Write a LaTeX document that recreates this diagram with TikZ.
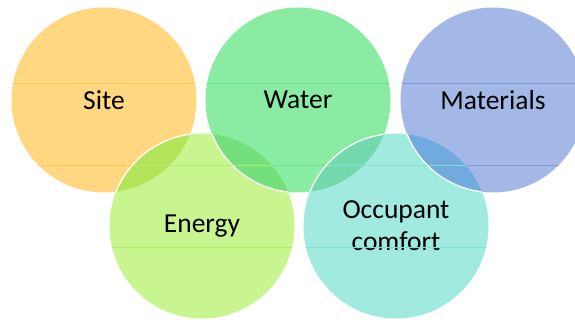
\documentclass[tikz,border=0pt]{standalone}
\usepackage{fontspec}
\setmainfont{Carlito}
\usetikzlibrary{positioning}

\definecolor{sitecol}{HTML}{FFD780}
\definecolor{watercol}{HTML}{8AEBA2}
\definecolor{matcol}{HTML}{A3B8E6}
\definecolor{energycol}{HTML}{C8F590}
\definecolor{occcol}{HTML}{A0EAE0}
\definecolor{siteline}{HTML}{FAC95C}
\definecolor{waterline}{HTML}{6EE08C}
\definecolor{matline}{HTML}{7F9AD6}
\definecolor{energyline}{HTML}{AEEC70}
\definecolor{occline}{HTML}{80DED2}
\definecolor{siteenergy}{HTML}{B4E45A}
\definecolor{waterenergy}{HTML}{74E07C}
\definecolor{waterocc}{HTML}{74DAAE}
\definecolor{matocc}{HTML}{70AADE}

\begin{document}
\begin{tikzpicture}[x=1pt,y=-1pt,
    ring/.style={circle,minimum size=185pt,inner sep=0pt,align=center,
      font=\fontsize{27.5}{32}\selectfont},
    edge/.style={white,line width=1.3pt}]
  \useasboundingbox (0,0) rectangle (575,320);
  \clip (0,0) rectangle (575,320);

  % top row
  \node[ring,fill=sitecol] (site) at (104,100) {Site};
  \node[ring,fill=watercol] (water) at (298,100) {Water};
  \node[ring,fill=matcol] (mat) at (493,100) {Materials};

  % bottom row
  \node[ring,fill=energycol] (energy) at (202,226) {Energy};
  \node[ring,fill=occcol] (occ) at (396,226) {Occupant\\comfort};

  % overlaps
  \begin{scope}
    \clip (site.center) circle (92.5);
    \fill[siteenergy] (energy.center) circle (92.5);
  \end{scope}
  \begin{scope}
    \clip (water.center) circle (92.5);
    \fill[waterenergy] (energy.center) circle (92.5);
    \fill[waterocc] (occ.center) circle (92.5);
  \end{scope}
  \begin{scope}
    \clip (mat.center) circle (92.5);
    \fill[matocc] (occ.center) circle (92.5);
  \end{scope}

  % faint lines across the circles
  \foreach \n/\c in {site/siteline,water/waterline,mat/matline,energy/energyline,occ/occline} {
    \begin{scope}
      \clip (\n.center) circle (92.5);
      \foreach \y in {83,165,247}
        \draw[\c,line width=0.5pt] (0,\y) -- (575,\y);
    \end{scope}
  }

  % white rims where one ring passes over another
  \begin{scope}
    \clip (site.center) circle (92.5);
    \draw[edge] (energy.center) circle (92.5);
  \end{scope}
  \begin{scope}
    \clip (energy.center) circle (92.5);
    \draw[edge] (water.center) circle (92.5);
  \end{scope}
  \begin{scope}
    \clip (water.center) circle (92.5);
    \draw[edge] (occ.center) circle (92.5);
  \end{scope}
  \begin{scope}
    \clip (occ.center) circle (92.5);
    \draw[edge] (mat.center) circle (92.5);
  \end{scope}
\end{tikzpicture}
\end{document}
